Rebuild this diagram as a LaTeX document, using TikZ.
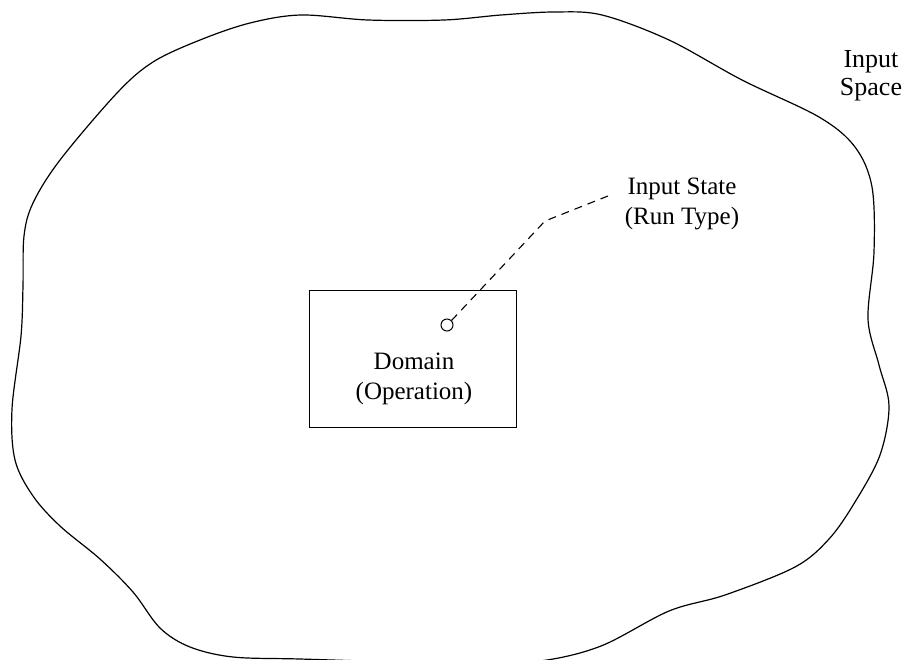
\documentclass[tikz,border=0pt]{standalone}
\usepackage{fontspec}
\setmainfont{Liberation Serif}
\begin{document}
\begin{tikzpicture}[x=1pt,y=-1pt,
  outline/.style={line width=1.2pt, line join=round},
  domainbox/.style={draw, line width=1pt, minimum width=207pt, minimum height=137pt, inner sep=0pt},
  lbl/.style={align=center, font=\fontsize{25}{30}\selectfont, inner sep=0pt},
  stateline/.style={line width=1.1pt, dash pattern=on 8pt off 6pt, rounded corners=3pt},
  statedot/.style={circle, draw, line width=1pt, minimum size=12pt, inner sep=0pt}]
\useasboundingbox (0,0) rectangle (904,659);
\fill[white] (0,0) rectangle (904,659);
% input space outline
\draw[outline] plot[smooth cycle, tension=0.55] coordinates {
 (153,62) (200,40) (250,23) (301,15) (368,20) (444,20) (501,15) (554,12)
 (602,15) (669,40) (742,80) (819,117) (855,147) (872,187) (874,252)
 (868,319) (879,365) (889,406) (880,455) (855,502) (829,539) (795,567)
 (725,595) (669,611) (601,646) (540,661) (470,663) (400,662) (300,659)
 (233,657) (190,647) (160,628) (133,592) (100,559) (60,526) (33,496)
 (15,460) (12,409) (21,336) (23,286) (24,236) (33,203) (60,160) (117,93)};
% domain box
\node[domainbox] (dom) at (412.5,358.5) {};
\node[lbl] (domlbl) at (414,379) {Domain\\(Operation)};
% input state
\node[statedot] (dot) at (447,325) {};
\node[lbl] (statelbl) at (682,204) {Input State\\(Run Type)};
\coordinate (bend) at (545,221);
\coordinate (tip) at (613,194);
\draw[stateline] (dot.north east) -- (bend) -- (tip);
% input space label
\node[lbl, font=\fontsize{26}{28}\selectfont] (spacelbl) at (871,76) {Input\\Space};
\end{tikzpicture}
\end{document}
